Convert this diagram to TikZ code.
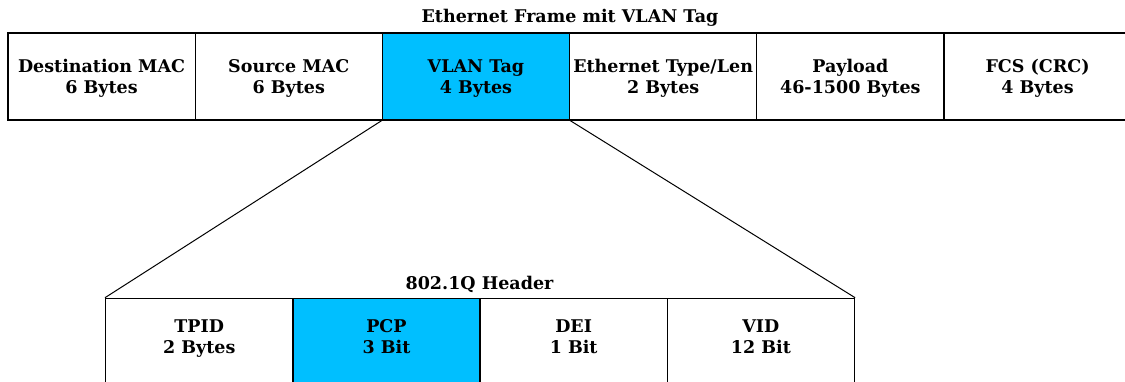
\documentclass[tikz,border=0pt]{standalone}
\usepackage{fontspec}
\setmainfont{DejaVu Serif}
\definecolor{vlanblue}{HTML}{00BFFF}
\begin{document}
\begin{tikzpicture}[x=1pt,y=-1pt,
  cell/.style={draw, line width=1.3pt, minimum width=187.2pt, minimum height=87pt,
               inner sep=0pt, anchor=north west},
  tagged/.style={cell, fill=vlanblue},
  celltext/.style={font=\fontsize{17.5}{21}\selectfont\bfseries, align=center, inner sep=0pt},
  caption/.style={font=\fontsize{17.5}{21}\selectfont\bfseries, inner sep=0pt, anchor=base},
  zoomline/.style={line width=1pt}]
\useasboundingbox (0,0) rectangle (1125,382);
\clip (0,0) rectangle (1125,382);

% Ethernet frame
\node[caption] (frametitle) at (570,22.7) {Ethernet Frame mit VLAN Tag};
\node[cell]   (dst)  at (7.3,32.3)   {};
\node[cell]   (src)  at (194.5,32.3) {};
\node[tagged] (vlan) at (381.7,32.3) {};
\node[cell]   (type) at (568.9,32.3) {};
\node[cell]   (pay)  at (756.1,32.3) {};
\node[cell]   (fcs)  at (943.3,32.3) {};

\node[celltext] (dstt)  at ([yshift=-2.7pt]dst.center)  {\strut Destination MAC\\6 Bytes\strut};
\node[celltext] (srct)  at ([yshift=-2.7pt]src.center)  {\strut Source MAC\\6 Bytes\strut};
\node[celltext] (vlant) at ([yshift=-2.7pt]vlan.center) {\strut VLAN Tag\\4 Bytes\strut};
\node[celltext] (typet) at ([yshift=-2.7pt]type.center) {\strut Ethernet Type/Len\\2 Bytes\strut};
\node[celltext] (payt)  at ([yshift=-2.7pt]pay.center)  {\strut Payload\\46-1500 Bytes\strut};
\node[celltext] (fcst)  at ([yshift=-2.7pt]fcs.center)  {\strut FCS (CRC)\\4 Bytes\strut};

% 802.1Q header
\node[caption] (hdrtitle) at (479.5,289.3) {802.1Q Header};
\node[cell]   (tpid) at (105,297.7)   {};
\node[tagged] (pcp)  at (292.2,297.7) {};
\node[cell]   (dei)  at (479.4,297.7) {};
\node[cell]   (vid)  at (666.6,297.7) {};

\node[celltext] (tpidt) at ([yshift=3.2pt]tpid.center) {\strut TPID\\2 Bytes\strut};
\node[celltext] (pcpt)  at ([yshift=3.2pt]pcp.center)  {\strut PCP\\3 Bit\strut};
\node[celltext] (deit)  at ([yshift=3.2pt]dei.center)  {\strut DEI\\1 Bit\strut};
\node[celltext] (vidt)  at ([yshift=3.2pt]vid.center)  {\strut VID\\12 Bit\strut};

% expansion of the VLAN tag
\draw[zoomline] (vlan.south west) -- (tpid.north west);
\draw[zoomline] (vlan.south east) -- (vid.north east);
\end{tikzpicture}
\end{document}
